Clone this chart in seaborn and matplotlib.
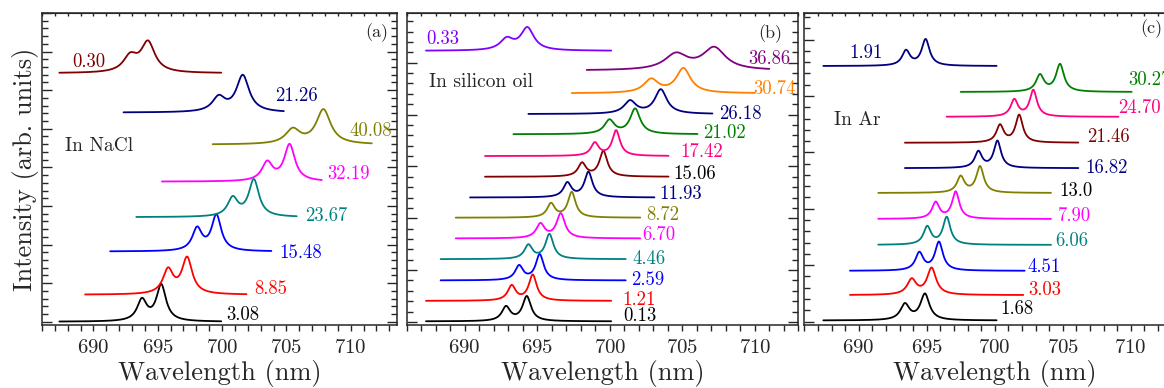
#!/usr/bin/env python3
"""
Ruby R1/R2 fluorescence spectra under pressure in three media.
"""

import numpy as np
import pandas as pd
import matplotlib
matplotlib.use("Agg")
import matplotlib.pyplot as plt
from matplotlib.ticker import MultipleLocator, NullFormatter
import seaborn as sns

# ---- panel (a): NaCl, spectra listed bottom to top ----
labels_a = ["3.08", "8.85", "15.48", "23.67", "32.19", "40.08", "21.26", "0.30"]
colors_a = ["#000000", "#ff0000", "#0000ff", "#008080", "#ff00ff", "#808000", "#000080", "#800000"]
base_a = [0.0, 0.70, 1.82, 2.71, 3.63, 4.59, 5.42, 6.44]
start_a = [687.35, 689.35, 691.3, 693.33, 695.33, 699.27, 692.34, 687.35]
end_a = [699.93, 701.9, 703.83, 705.8, 707.75, 711.64, 704.8, 699.93]
r2_a = [693.77, 695.8, 698.06, 700.83, 703.51, 705.5, 699.74, 692.86]
r1_a = [695.27, 697.28, 699.56, 702.47, 705.25, 707.88, 701.61, 694.24]
h2_a = [0.62, 0.71, 0.65, 0.55, 0.55, 0.44, 0.46, 0.54]
h1_a = [0.98, 0.99, 0.97, 0.99, 0.98, 0.92, 0.98, 0.85]
width_a = [0.45, 0.48, 0.45, 0.48, 0.50, 0.68, 0.60, 0.65]
labx_a = [700.34, 702.52, 704.42, 706.42, 708.19, 709.88, 704.16, 688.36]
laby_a = [0.18, 0.85, 1.79, 2.73, 3.83, 4.93, 5.84, 6.73]
labc_a = colors_a

# ---- panel (b): silicon oil ----
labels_b = ["0.13", "1.21", "2.59", "4.46", "6.70", "8.72", "11.93", "15.06",
            "17.42", "21.02", "26.18", "30.74", "36.86", "0.33"]
colors_b = ["#000000", "#ff0000", "#0000ff", "#008080", "#ff00ff", "#808000", "#000080", "#800000",
            "#ff0080", "#008000", "#000080", "#ff8000", "#800080", "#8000ff"]
base_b = [0.01, 0.405, 0.80, 1.21, 1.61, 2.01, 2.40, 2.80, 3.20, 3.62, 4.01, 4.41, 4.85, 5.23]
start_b = [687.33, 687.33, 688.34, 688.34, 689.38, 689.38, 690.37, 691.4,
           691.4, 693.36, 694.39, 697.38, 698.41, 687.33]
end_b = [700.1, 700.1, 701.1, 701.1, 702.1, 702.1, 703.08, 704.05,
         704.05, 706.05, 707.08, 710.0, 711.0, 700.1]
r2_b = [692.85, 693.24, 693.75, 694.39, 695.22, 695.95, 697.08, 698.09,
        698.97, 699.98, 701.4, 702.85, 704.57, 692.9]
r1_b = [694.28, 694.69, 695.17, 695.84, 696.62, 697.38, 698.53, 699.56,
        700.44, 701.75, 703.52, 705.08, 707.2, 694.32]
h2_b = [0.30, 0.31, 0.30, 0.29, 0.30, 0.29, 0.30, 0.28, 0.27, 0.29, 0.27, 0.29, 0.35, 0.27]
h1_b = [0.49, 0.51, 0.51, 0.49, 0.49, 0.50, 0.50, 0.50, 0.50, 0.50, 0.48, 0.49, 0.46, 0.46]
width_b = [0.35, 0.33, 0.33, 0.33, 0.35, 0.32, 0.33, 0.33, 0.32, 0.42, 0.50, 0.60, 0.95, 0.55]
labx_b = [700.9, 700.9, 701.45, 701.56, 702.25, 702.55, 703.4, 704.4,
          704.9, 706.46, 707.56, 709.9, 709.56, 687.38]
laby_b = [0.12, 0.43, 0.80, 1.22, 1.67, 2.06, 2.46, 2.86, 3.27, 3.64, 4.02, 4.50, 5.08, 5.46]
labc_b = colors_b[:7] + ["#000000"] + colors_b[8:]

# ---- panel (c): Ar ----
labels_c = ["1.68", "3.03", "4.51", "6.06", "7.90", "13.0", "16.82", "21.46", "24.70", "30.27", "1.91"]
colors_c = ["#000000", "#ff0000", "#0000ff", "#008080", "#ff00ff", "#808000", "#000080", "#800000",
            "#ff0080", "#008000", "#000080"]
base_c = [0.02, 0.47, 0.90, 1.36, 1.82, 2.28, 2.72, 3.17, 3.63, 4.07, 4.53]
start_c = [687.4, 689.36, 689.36, 691.44, 691.44, 691.44, 693.4, 693.4, 696.47, 697.5, 687.4]
end_c = [700.14, 702.1, 702.2, 704.14, 704.14, 704.14, 706.15, 706.15, 709.1, 710.07, 700.14]
r2_c = [693.4, 693.9, 694.46, 695.04, 695.66, 697.5, 698.8, 700.39, 701.44, 703.33, 693.48]
r1_c = [694.87, 695.36, 695.9, 696.47, 697.13, 698.92, 700.2, 701.8, 702.84, 704.8, 694.92]
h2_c = [0.31, 0.30, 0.34, 0.34, 0.31, 0.31, 0.31, 0.33, 0.32, 0.32, 0.29]
h1_c = [0.48, 0.49, 0.52, 0.50, 0.49, 0.48, 0.49, 0.50, 0.48, 0.50, 0.48]
width_c = [0.40, 0.40, 0.35, 0.33, 0.32, 0.33, 0.32, 0.32, 0.32, 0.35, 0.35]
labx_c = [700.39, 702.47, 702.4, 704.43, 704.68, 704.73, 706.64, 706.76, 709.04, 709.82, 689.3]
laby_c = [0.22, 0.56, 0.96, 1.42, 1.88, 2.32, 2.72, 3.27, 3.79, 4.29, 4.76]
labc_c = colors_c[:5] + ["#000000"] + colors_c[6:]


def lorentz(x, x0, g):
    return g ** 2 / ((x - x0) ** 2 + g ** 2)


def build_frame(labels, base, start, end, r2, r1, h2, h1, width):
    """Two-line (R2 + R1) profile for every spectrum, scaled to the read peak heights."""
    frames = []
    for i, lab in enumerate(labels):
        x = np.linspace(start[i], end[i], 700)
        g = width[i]
        # amplitudes so that the summed profile reaches h2 at r2 and h1 at r1
        m = np.array([[1.0, lorentz(r2[i], r1[i], g)],
                      [lorentz(r1[i], r2[i], g), 1.0]])
        a2, a1 = np.linalg.solve(m, [h2[i], h1[i]])
        y = base[i] + a2 * lorentz(x, r2[i], g) + a1 * lorentz(x, r1[i], g)
        frames.append(pd.DataFrame({"wavelength": x, "intensity": y, "spectrum": lab + f"_{i}"}))
    return pd.concat(frames, ignore_index=True)


def draw_panel(ax, labels, colors, base, start, end, r2, r1, h2, h1, width,
               labx, laby, labc, xlim, ylim, tag, tag_xy, medium, medium_xy):
    df = build_frame(labels, base, start, end, r2, r1, h2, h1, width)
    palette = {lab + f"_{i}": colors[i] for i, lab in enumerate(labels)}
    sns.lineplot(data=df, x="wavelength", y="intensity", hue="spectrum", palette=palette,
                 estimator=None, sort=False, legend=False, linewidth=1.3, ax=ax)
    for i, lab in enumerate(labels):
        ax.text(labx[i], laby[i], lab, color=labc[i], fontsize=13.5, ha="left", va="center")
    ax.text(tag_xy[0], tag_xy[1], tag, fontsize=13, ha="center", va="center")
    ax.text(medium_xy[0], medium_xy[1], medium, fontsize=14, ha="left", va="center")

    ax.set_xlim(*xlim)
    ax.set_ylim(*ylim)
    ax.xaxis.set_major_locator(MultipleLocator(5))
    ax.xaxis.set_minor_locator(MultipleLocator(1))
    ax.yaxis.set_major_locator(MultipleLocator(1))
    ax.yaxis.set_minor_locator(MultipleLocator(0.2))
    ax.yaxis.set_major_formatter(NullFormatter())
    ax.tick_params(axis="x", which="both", direction="out", length=4, width=1, labelsize=15,
                   pad=6, top=False)
    ax.tick_params(axis="y", which="major", direction="in", length=7, width=1, left=True, right=True)
    ax.tick_params(axis="y", which="minor", direction="in", length=4, width=1, left=True, right=True)
    sec = ax.secondary_xaxis("top")
    sec.xaxis.set_major_locator(MultipleLocator(1))
    sec.tick_params(direction="in", length=2, width=1, labeltop=False)
    ax.set_xlabel("Wavelength (nm)", fontsize=19, labelpad=2)
    ax.set_ylabel("")
    for s in ax.spines.values():
        s.set_linewidth(1.1)


sns.set_style("ticks")
plt.rcParams["font.family"] = ["cmr10", "DejaVu Serif"]
plt.rcParams["axes.formatter.use_mathtext"] = True
plt.rcParams["axes.unicode_minus"] = False

W, H = 1164, 388
fig = plt.figure(figsize=(W / 100, H / 100), dpi=100)
bottom, height = (H - 325) / H, 312 / H
ax_a = fig.add_axes([42 / W, bottom, 355 / W, height])
ax_b = fig.add_axes([406.7 / W, bottom, 391.6 / W, height])
ax_c = fig.add_axes([804.3 / W, bottom, 380.8 / W, height])

draw_panel(ax_a, labels_a, colors_a, base_a, start_a, end_a, r2_a, r1_a, h2_a, h1_a, width_a,
           labx_a, laby_a, labc_a, (686, 713.6), (-0.085, 8.0), "(a)", (712.0, 7.5),
           "In NaCl", (687.8, 4.54))
draw_panel(ax_b, labels_b, colors_b, base_b, start_b, end_b, r2_b, r1_b, h2_b, h1_b, width_b,
           labx_b, laby_b, labc_b, (686, 713), (-0.06, 5.96), "(b)", (711.06, 5.57),
           "In silicon oil", (687.56, 4.62))
draw_panel(ax_c, labels_c, colors_c, base_c, start_c, end_c, r2_c, r1_c, h2_c, h1_c, width_c,
           labx_c, laby_c, labc_c, (686, 714), (-0.06, 5.47), "(c)", (711.5, 5.2),
           "In Ar", (688.2, 3.58))

ax_a.set_ylabel("Intensity (arb. units)", fontsize=19, labelpad=-1)

fig.savefig("out.png", dpi=100)
plt.close(fig)
